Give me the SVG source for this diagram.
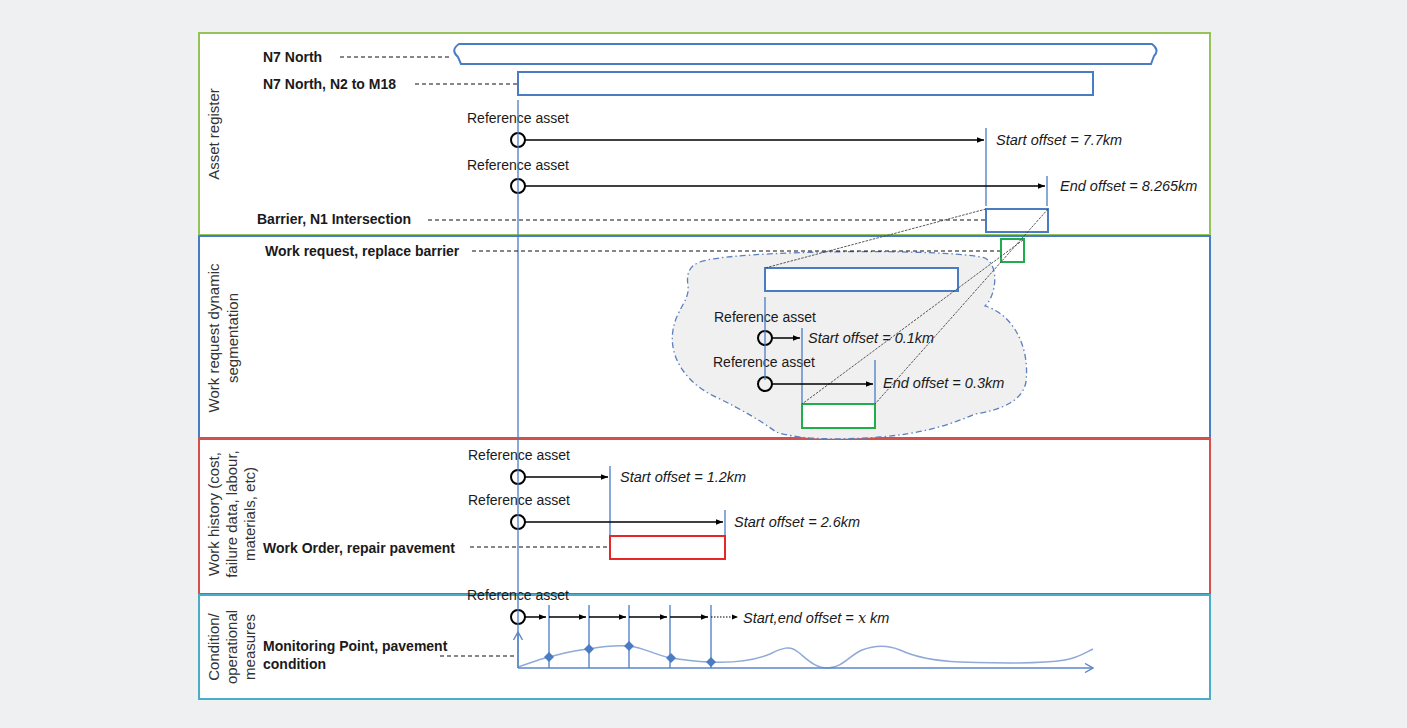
<svg xmlns="http://www.w3.org/2000/svg" width="1407" height="728" viewBox="0 0 1407 728">
<defs>
<style>
.lbl{font-family:"Liberation Sans",Arial,sans-serif;font-size:14px;fill:#1a1a1a}
.b{font-weight:bold}
.it{font-style:italic;font-size:14.5px}
.side{font-family:"Liberation Sans",Arial,sans-serif;font-size:15px;fill:#333;text-anchor:middle}
.dash{stroke:#111;stroke-width:1.2;stroke-dasharray:4 3;fill:none}
.arr{stroke:#000;stroke-width:1.5;fill:none;marker-end:url(#ah)}
.ref{stroke:#000;stroke-width:2;fill:none}
.vb{stroke:#4a7cc4;stroke-width:1.3;fill:none}
.brect{stroke:#4a7cc4;stroke-width:2;fill:#fff}
.grect{stroke:#1fae4b;stroke-width:2;fill:#fff}
.thin{stroke:#444;stroke-width:0.9;stroke-dasharray:2.5 1.2;fill:none}
</style>
<marker id="ah" viewBox="0 0 10 10" refX="10" refY="5" markerWidth="7" markerHeight="7" markerUnits="userSpaceOnUse" orient="auto"><path d="M0,1 L10,5 L0,9 z" fill="#000"/></marker>
<marker id="ahs" viewBox="0 0 10 10" refX="10" refY="5" markerWidth="6" markerHeight="6" markerUnits="userSpaceOnUse" orient="auto"><path d="M0,1 L10,5 L0,9 z" fill="#000"/></marker>
<marker id="open" viewBox="0 0 10 10" refX="9" refY="5" markerWidth="10" markerHeight="10" markerUnits="userSpaceOnUse" orient="auto"><path d="M1,0.5 L9,5 L1,9.5" fill="none" stroke="#5b85c9" stroke-width="1.4"/></marker>
</defs>
<rect x="0" y="0" width="1407" height="728" fill="#eff0f2"/>

<!-- Sections -->
<g id="sec-asset-register">
<rect x="199" y="33" width="1011" height="202" fill="#fff" stroke="#96c25a" stroke-width="2"/>
<text class="side" transform="translate(219,134) rotate(-90)">Asset register</text>
</g>
<g id="sec-work-request">
<rect x="199" y="236" width="1011" height="202" fill="#fff" stroke="#4a7cc4" stroke-width="2"/>
<text class="side" transform="translate(219,338) rotate(-90)">Work request dynamic</text>
<text class="side" transform="translate(238,338) rotate(-90)">segmentation</text>
</g>
<g id="sec-work-history">
<rect x="199" y="439" width="1011" height="155" fill="#fff" stroke="#d4504d" stroke-width="2"/>
<text class="side" transform="translate(219,514) rotate(-90)">Work history (cost,</text>
<text class="side" transform="translate(237,514) rotate(-90)">failure data, labour,</text>
<text class="side" transform="translate(255,514) rotate(-90)">materials, etc)</text>
</g>
<g id="sec-condition">
<rect x="199" y="595" width="1011" height="104" fill="#fff" stroke="#4bacc6" stroke-width="2"/>
<text class="side" transform="translate(219,647) rotate(-90)">Condition/</text>
<text class="side" transform="translate(237,647) rotate(-90)">operational</text>
<text class="side" transform="translate(255,647) rotate(-90)">measures</text>
</g>

<!-- Cloud -->
<g id="cloud">
<path d="M700,262 C730,250 950,248 985,258 C1000,266 996,296 985,306 C1012,314 1030,345 1026,382 C1022,402 1000,410 975,414 C948,426 918,434 880,437 C840,440 800,440 776,432 C760,420 742,410 718,398 C690,386 668,360 673,330 C676,310 690,300 688,286 C686,272 690,266 700,262 Z" fill="#f0f0f0" stroke="#5b7fbf" stroke-width="1.3" stroke-dasharray="6 3 1.5 3"/>
</g>

<!-- Nodes -->
<g id="n7-north">
<path d="M459,44 L1152,44 Q1160,50 1154,56 L1151,64 L461,64 L458,57 Q450,50 459,44 Z" fill="#fff" stroke="#4a7cc4" stroke-width="2"/>
<text class="lbl b" x="263" y="62">N7 North</text>
</g>
<g id="n2-m18">
<rect class="brect" x="518" y="72" width="575" height="23"/>
<text class="lbl b" x="263" y="89">N7 North, N2 to M18</text>
</g>
<g id="barrier">
<rect class="brect" x="986" y="209" width="62" height="23"/>
<text class="lbl b" x="257" y="224">Barrier, N1 Intersection</text>
</g>
<g id="work-request">
<rect class="grect" x="1001" y="239" width="23" height="23"/>
<text class="lbl b" x="265" y="256">Work request, replace barrier</text>
</g>
<g id="segment-blue">
<rect class="brect" x="765" y="268" width="193" height="23"/>
</g>
<g id="segment-green">
<rect class="grect" x="802" y="404" width="73" height="24"/>
</g>
<g id="work-order">
<rect x="610" y="536" width="115" height="23" fill="#fff" stroke="#e52727" stroke-width="2"/>
<text class="lbl b" x="263" y="553">Work Order, repair pavement</text>
</g>
<g id="monitoring">
<text class="lbl b" x="263" y="651">Monitoring Point, pavement</text>
<text class="lbl b" x="263" y="669">condition</text>
</g>

<!-- Reference assets and offsets -->
<g id="ref-ar-1">
<text class="lbl" x="467" y="123">Reference asset</text>
<circle class="ref" cx="518" cy="140" r="7"/>
<text class="lbl it" x="996" y="145">Start offset = 7.7km</text>
</g>
<g id="ref-ar-2">
<text class="lbl" x="467" y="170">Reference asset</text>
<circle class="ref" cx="518" cy="186" r="7"/>
<text class="lbl it" x="1060" y="191">End offset = 8.265km</text>
</g>
<g id="ref-wr-1">
<text class="lbl" x="714" y="322">Reference asset</text>
<circle class="ref" cx="765" cy="338" r="7"/>
<text class="lbl it" x="808" y="343">Start offset = 0.1km</text>
</g>
<g id="ref-wr-2">
<text class="lbl" x="713" y="367">Reference asset</text>
<circle class="ref" cx="765" cy="384" r="7"/>
<text class="lbl it" x="883" y="388">End offset = 0.3km</text>
</g>
<g id="ref-wh-1">
<text class="lbl" x="468" y="460">Reference asset</text>
<circle class="ref" cx="518" cy="477" r="7"/>
<text class="lbl it" x="620" y="482">Start offset = 1.2km</text>
</g>
<g id="ref-wh-2">
<text class="lbl" x="468" y="505">Reference asset</text>
<circle class="ref" cx="518" cy="522" r="7"/>
<text class="lbl it" x="734" y="527">Start offset = 2.6km</text>
</g>
<g id="ref-cond">
<text class="lbl" x="467" y="600">Reference asset</text>
<circle class="ref" cx="518" cy="617" r="7"/>
<text class="lbl it" x="743" y="623">Start,end offset = <tspan font-family="'DejaVu Serif',serif" font-style="italic">x</tspan> km</text>
</g>

<!-- Chart -->
<g id="condition-chart">
<path d="M518,667 C530,663 540,659 549,657 C565,653 575,650 589,649 C605,646 615,645 629,646 C645,648 655,655 671,658 C685,660 700,662 711,662 C735,663 755,660 770,654 C782,648 790,645 798,652 C808,660 815,668 828,668 C842,668 850,655 862,650 C875,645 888,645 900,650 C915,657 935,661 960,662 C1000,663 1040,664 1065,660 C1078,658 1085,653 1093,649" fill="none" stroke="#8faad8" stroke-width="1.5"/>
<g fill="#4a7cc4">
<path d="M549,652 L554,657 L549,662 L544,657 Z"/>
<path d="M589,644 L594,649 L589,654 L584,649 Z"/>
<path d="M629,641 L634,646 L629,651 L624,646 Z"/>
<path d="M671,653 L676,658 L671,663 L666,658 Z"/>
<path d="M711,657 L716,662 L711,667 L706,662 Z"/>
</g>
</g>

<!-- Connectors -->
<g id="connectors">
<line class="vb" x1="518" y1="100" x2="518" y2="668" stroke-width="1.6"/>
<line x1="518" y1="668" x2="518" y2="632" stroke="#5b85c9" stroke-width="1.4" marker-end="url(#open)"/>
<line x1="518" y1="668" x2="1093" y2="668" stroke="#5b85c9" stroke-width="1.4" marker-end="url(#open)"/>

<line class="dash" x1="340" y1="57" x2="452" y2="57"/>
<line class="dash" x1="415" y1="84" x2="517" y2="84"/>
<line class="dash" x1="428" y1="220" x2="985" y2="220"/>
<line class="dash" x1="472" y1="251" x2="1000" y2="251"/>
<line class="dash" x1="470" y1="547" x2="609" y2="547" stroke-width="1"/>
<line class="dash" x1="440" y1="656" x2="517" y2="656"/>

<line class="vb" x1="986" y1="128" x2="986" y2="206"/>
<line class="vb" x1="1047" y1="176" x2="1047" y2="206"/>
<line class="arr" x1="525" y1="140" x2="984" y2="140"/>
<line class="arr" x1="525" y1="186" x2="1045" y2="186"/>

<line class="thin" x1="986" y1="209" x2="765" y2="268"/>
<line class="thin" x1="1023" y1="240" x2="802" y2="404" stroke-dasharray="none" stroke-width="0.8"/>
<line class="thin" x1="1048" y1="209" x2="875" y2="404" stroke-dasharray="none" stroke-width="0.8"/>

<line class="vb" x1="765" y1="297" x2="765" y2="380" stroke="#7b9fd8"/>
<line class="vb" x1="802" y1="328" x2="802" y2="403" stroke="#7b9fd8"/>
<line class="vb" x1="875" y1="360" x2="875" y2="403" stroke="#7b9fd8"/>
<line class="arr" x1="772" y1="338" x2="800" y2="338" marker-end="url(#ahs)"/>
<line class="arr" x1="772" y1="384" x2="873" y2="384"/>

<line class="vb" x1="610" y1="466" x2="610" y2="535"/>
<line class="vb" x1="725" y1="510" x2="725" y2="535"/>
<line class="arr" x1="525" y1="477" x2="608" y2="477"/>
<line class="arr" x1="525" y1="522" x2="723" y2="522"/>

<g class="vb" stroke-width="1.5">
<line x1="549" y1="605" x2="549" y2="668"/>
<line x1="589" y1="605" x2="589" y2="668"/>
<line x1="629" y1="605" x2="629" y2="668"/>
<line x1="670" y1="605" x2="670" y2="668"/>
<line x1="711" y1="605" x2="711" y2="668"/>
</g>
<line class="arr" x1="525" y1="617" x2="546" y2="617" marker-end="url(#ahs)"/>
<line class="arr" x1="549" y1="617" x2="586" y2="617" marker-end="url(#ahs)"/>
<line class="arr" x1="589" y1="617" x2="626" y2="617" marker-end="url(#ahs)"/>
<line class="arr" x1="629" y1="617" x2="667" y2="617" marker-end="url(#ahs)"/>
<line class="arr" x1="670" y1="617" x2="708" y2="617" marker-end="url(#ahs)"/>
<line x1="711" y1="617" x2="738" y2="617" stroke="#000" stroke-width="1.2" stroke-dasharray="1.5 1.5" marker-end="url(#ahs)"/>
</g>
</svg>
